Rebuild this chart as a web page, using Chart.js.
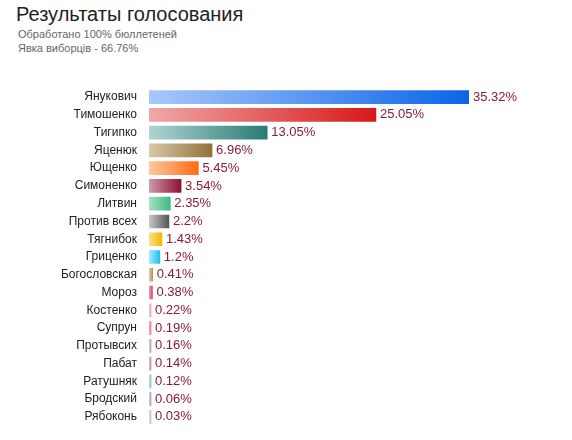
<!DOCTYPE html>
<html>
<head>
<meta charset="utf-8">
<script src="https://cdn.jsdelivr.net/npm/chart.js@4"></script>
<style>
  body { margin: 0; background: #fff; font-family: Arial, "Liberation Sans", sans-serif; }
  h1 { position: absolute; left: 16px; top: 3px; margin: 0; font-size: 20px; font-weight: normal; color: #222; }
  .sub { position: absolute; left: 18px; font-size: 11px; color: #666; }
  #wrap { position: absolute; left: 0; top: 77px; width: 572px; height: 360px; }
</style>
</head>
<body>
<h1>Результаты голосования</h1>
<div class="sub" style="top:28px">Обработано 100% бюллетеней</div>
<div class="sub" style="top:42px">Явка виборців - 66.76%</div>
<div id="wrap"><canvas id="chart"></canvas></div>
<script>
var candidates = ['Янукович', 'Тимошенко', 'Тигипко', 'Яценюк', 'Ющенко', 'Симоненко', 'Литвин', 'Против всех', 'Тягнибок', 'Гриценко', 'Богословская', 'Мороз', 'Костенко', 'Супрун', 'Протывсих', 'Пабат', 'Ратушняк', 'Бродский', 'Рябоконь'];
var votes = [35.32, 25.05, 13.05, 6.96, 5.45, 3.54, 2.35, 2.2, 1.43, 1.2, 0.41, 0.38, 0.22, 0.19, 0.16, 0.14, 0.12, 0.06, 0.03];
var lightColors = ['#a8c8fa', '#f0a8a8', '#b0d4d0', '#d8c8a8', '#ffc8a0', '#d09aaa', '#a8e0c4', '#c8c8c8', '#f8e090', '#a8e8fa', '#e0d4a8', '#f0a0c0', '#f8d0d0', '#f0b8c8', '#d8d8e0', '#e0c8d0', '#d0e0e8', '#d0d8e8', '#e0e0e0'];
var darkColors = ['#0a64e8', '#d81818', '#2a7a76', '#94703a', '#ff6a10', '#8c1030', '#40b880', '#555555', '#f0b800', '#20c0f0', '#b09850', '#e0407a', '#e8a0a0', '#d87898', '#a0a0b0', '#c08898', '#90b0c8', '#90a0c0', '#c0c0c0'];

function barFill(c) {
  var chart = c.chart;
  if (!chart.chartArea) return darkColors[c.dataIndex];
  var x0 = chart.chartArea.left;
  var x1 = chart.scales.x.getPixelForValue(votes[c.dataIndex]);
  if (x1 - x0 < 2) x1 = x0 + 2;
  var g = chart.ctx.createLinearGradient(x0, 0, x1, 0);
  g.addColorStop(0, lightColors[c.dataIndex]);
  g.addColorStop(1, darkColors[c.dataIndex]);
  return g;
}

var valueLabels = {
  id: 'valueLabels',
  afterDatasetsDraw: function (chart) {
    var ctx = chart.ctx;
    ctx.save();
    ctx.font = '13px Arial, "Liberation Sans"';
    ctx.fillStyle = '#8b1a3a';
    ctx.textBaseline = 'middle';
    chart.getDatasetMeta(0).data.forEach(function (bar, i) {
      ctx.fillText(votes[i] + '%', Math.max(bar.x, chart.chartArea.left + 2) + 4, bar.y);
    });
    ctx.restore();
  }
};

new Chart(document.getElementById('chart'), {
  type: 'bar',
  data: {
    labels: candidates,
    datasets: [{
      data: votes,
      backgroundColor: barFill,
      borderWidth: 0,
      barThickness: 13,
      minBarLength: 2
    }]
  },
  options: {
    indexAxis: 'y',
    responsive: true,
    maintainAspectRatio: false,
    animation: false,
    layout: { padding: { left: 0, right: 103, top: 0, bottom: 0 } },
    plugins: { legend: { display: false }, tooltip: { enabled: false } },
    scales: {
      x: { display: false, min: 0, max: 35.32 },
      y: {
        afterFit: function (s) { s.width = 149; },
        grid: { display: false },
        border: { display: false },
        ticks: { color: '#222', font: { size: 12, family: 'Arial, "Liberation Sans"' }, padding: 4 }
      }
    }
  },
  plugins: [valueLabels]
});
</script>
</body>
</html>
